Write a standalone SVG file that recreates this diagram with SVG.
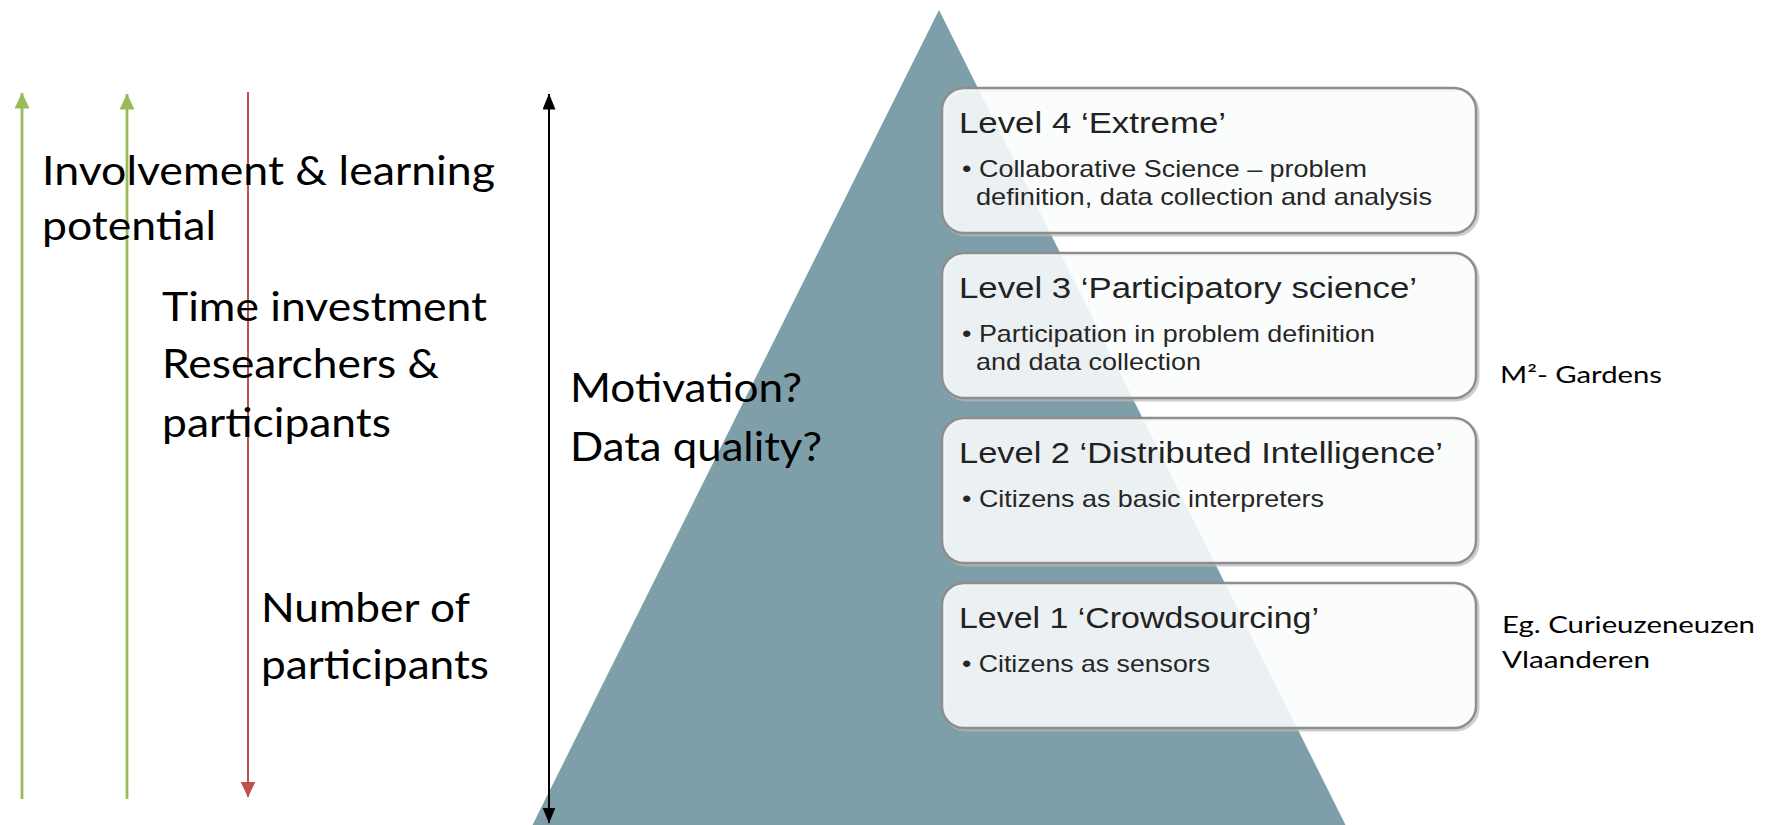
<svg xmlns="http://www.w3.org/2000/svg" width="1766" height="825" viewBox="0 0 1766 825">
<style>
.cal{font-family:Lato,"Liberation Sans",sans-serif;fill:#000}
.big{font-size:41px}
.side{font-size:24px}
.box{fill:#fbfcfc;fill-opacity:0.88;stroke:#8e8e8e;stroke-width:2.5}
.shadow{fill:none;stroke:#b9b9b9;stroke-width:3;opacity:0.7}
.ttl{font-family:"Liberation Sans",Arial,sans-serif;font-size:30px;fill:#222}
.bul{font-family:"Liberation Sans",Arial,sans-serif;font-size:24px;fill:#262626}
</style>
<defs>
<marker id="hg" markerUnits="userSpaceOnUse" markerWidth="16" markerHeight="17" refX="15.5" refY="7.5" orient="auto">
<path d="M0,0 L16,7.5 L0,15 z" fill="#9bbb59"/>
</marker>
<marker id="hr" markerUnits="userSpaceOnUse" markerWidth="16" markerHeight="17" refX="15.5" refY="7.5" orient="auto">
<path d="M0,0 L16,7.5 L0,15 z" fill="#c0504d"/>
</marker>
<marker id="hk" markerUnits="userSpaceOnUse" markerWidth="16" markerHeight="15" refX="15.5" refY="6.5" orient="auto">
<path d="M0,0 L16,6.5 L0,13 z" fill="#000"/>
</marker>
</defs>
<rect width="1766" height="825" fill="#fff"/>

<g id="pyramid">
<polygon points="939,10 1346,826 532,826" fill="#7e9fa9"/>
</g>

<g id="connectors">
<line x1="22" y1="799" x2="22" y2="93" stroke="#9bbb59" stroke-width="2.8" marker-end="url(#hg)"/>
<line x1="127" y1="799" x2="127" y2="94" stroke="#9bbb59" stroke-width="2.8" marker-end="url(#hg)"/>
<line x1="248" y1="92" x2="248" y2="797" stroke="#c0504d" stroke-width="2" marker-end="url(#hr)"/>
<line x1="549" y1="460" x2="549" y2="94" stroke="#000" stroke-width="2" marker-end="url(#hk)"/>
<line x1="549" y1="460" x2="549" y2="823" stroke="#000" stroke-width="2" marker-end="url(#hk)"/>
</g>

<g id="label-involvement">
<text class="cal big" x="42" y="185" textLength="453" lengthAdjust="spacingAndGlyphs">Involvement &amp; learning</text>
<text class="cal big" x="42" y="240" textLength="174" lengthAdjust="spacingAndGlyphs">potential</text>
</g>
<g id="label-time">
<text class="cal big" x="162" y="321" textLength="325" lengthAdjust="spacingAndGlyphs">Time investment</text>
<text class="cal big" x="162" y="378" textLength="277" lengthAdjust="spacingAndGlyphs">Researchers &amp;</text>
<text class="cal big" x="162" y="437" textLength="229" lengthAdjust="spacingAndGlyphs">participants</text>
</g>
<g id="label-number">
<text class="cal big" x="261" y="622" textLength="209" lengthAdjust="spacingAndGlyphs">Number of</text>
<text class="cal big" x="261" y="679" textLength="228" lengthAdjust="spacingAndGlyphs">participants</text>
</g>
<g id="label-motivation">
<text class="cal big" x="570" y="402" textLength="232" lengthAdjust="spacingAndGlyphs">Motivation?</text>
<text class="cal big" x="570" y="461" textLength="252" lengthAdjust="spacingAndGlyphs">Data quality?</text>
</g>

<g id="level4">
<rect class="shadow" x="944" y="90" width="534" height="145" rx="22"/>
<rect class="box" x="942" y="88" width="534" height="145" rx="22"/>
<text class="ttl" x="959" y="133" textLength="267" lengthAdjust="spacingAndGlyphs">Level 4 ‘Extreme’</text>
<text class="bul" x="962" y="177" textLength="405" lengthAdjust="spacingAndGlyphs">• Collaborative Science – problem</text>
<text class="bul" x="976" y="205" textLength="456" lengthAdjust="spacingAndGlyphs">definition, data collection and analysis</text>
</g>
<g id="level3">
<rect class="shadow" x="944" y="255" width="534" height="145" rx="22"/>
<rect class="box" x="942" y="253" width="534" height="145" rx="22"/>
<text class="ttl" x="959" y="298" textLength="458" lengthAdjust="spacingAndGlyphs">Level 3 ‘Participatory science’</text>
<text class="bul" x="962" y="342" textLength="413" lengthAdjust="spacingAndGlyphs">• Participation in problem definition</text>
<text class="bul" x="976" y="370" textLength="225" lengthAdjust="spacingAndGlyphs">and data collection</text>
</g>
<g id="level2">
<rect class="shadow" x="944" y="420" width="534" height="145" rx="22"/>
<rect class="box" x="942" y="418" width="534" height="145" rx="22"/>
<text class="ttl" x="959" y="463" textLength="484" lengthAdjust="spacingAndGlyphs">Level 2 ‘Distributed Intelligence’</text>
<text class="bul" x="962" y="507" textLength="362" lengthAdjust="spacingAndGlyphs">• Citizens as basic interpreters</text>
</g>
<g id="level1">
<rect class="shadow" x="944" y="585" width="534" height="145" rx="22"/>
<rect class="box" x="942" y="583" width="534" height="145" rx="22"/>
<text class="ttl" x="959" y="628" textLength="360" lengthAdjust="spacingAndGlyphs">Level 1 ‘Crowdsourcing’</text>
<text class="bul" x="962" y="672" textLength="248" lengthAdjust="spacingAndGlyphs">• Citizens as sensors</text>
</g>

<g id="example-m2">
<text class="cal side" x="1500" y="383" textLength="162" lengthAdjust="spacingAndGlyphs">M²- Gardens</text>
</g>
<g id="example-curieuzeneuzen">
<text class="cal side" x="1502" y="633" textLength="253" lengthAdjust="spacingAndGlyphs">Eg. Curieuzeneuzen</text>
<text class="cal side" x="1502" y="668" textLength="148" lengthAdjust="spacingAndGlyphs">Vlaanderen</text>
</g>
</svg>
